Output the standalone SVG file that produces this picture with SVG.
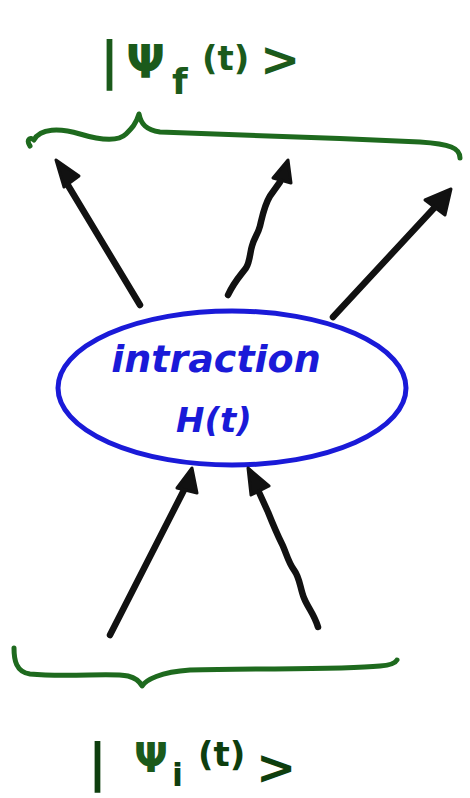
<svg xmlns="http://www.w3.org/2000/svg" width="470" height="798" viewBox="0 0 470 798">
<defs>
<style>
.brace{fill:none;stroke:#1e6a1e;stroke-width:5;stroke-linecap:round;stroke-linejoin:round}
.arr{fill:none;stroke:#111;stroke-width:6.5;stroke-linecap:round;stroke-linejoin:round}
.head{fill:#111;stroke:#111;stroke-width:3;stroke-linejoin:round}
.ket{font-family:"DejaVu Sans",sans-serif;font-weight:bold;fill:#1b5a1b}
.keti{font-family:"DejaVu Sans",sans-serif;font-weight:bold;fill:#0e3e0e}
.lbl{font-family:"DejaVu Sans",sans-serif;font-weight:bold;font-style:italic;fill:#1a1ad8}
</style>
</defs>
<rect width="470" height="798" fill="#ffffff"/>
<g id="psi_f">
<text class="ket" x="100" y="78" font-size="52">|</text>
<text class="ket" x="126" y="78" font-size="46">Ψ</text>
<text class="ket" x="172" y="94" font-size="36">f</text>
<text class="ket" x="202" y="70" font-size="34">(t)</text>
<text class="ket" x="260" y="76" font-size="48">&gt;</text>
</g>
<g id="brace_top">
<path class="brace" d="M30,146 C26,140 30,136 34,140 C40,128 60,128 80,134 C100,140 118,142 126,134 C132,128 136,124 139,114 C141,124 146,130 160,132 C220,134 330,138 420,142 C450,144 460,148 460,158"/>
</g>
<g id="interaction">
<ellipse cx="232" cy="388" rx="174" ry="77" fill="none" stroke="#1a1ad8" stroke-width="5"/>
<text class="lbl" x="216" y="372" font-size="38" text-anchor="middle">intraction</text>
<text class="lbl" x="214" y="432" font-size="34" text-anchor="middle">H(t)</text>
</g>
<g id="brace_bottom">
<path class="brace" d="M14,648 C14,660 16,672 30,674 C70,678 110,672 128,676 C136,678 140,682 142,686 C146,680 160,672 190,670 C260,668 340,670 380,666 C392,665 396,662 397,660"/>
</g>
<g id="psi_i">
<text class="keti" x="88" y="780" font-size="52">|</text>
<text class="ket" x="134" y="772" font-size="40">Ψ</text>
<text class="keti" x="172" y="786" font-size="32">i</text>
<text class="keti" x="198" y="766" font-size="34">(t)</text>
<text class="keti" x="256" y="784" font-size="48">&gt;</text>
</g>
<g id="connectors">
<path class="arr" d="M140,305 L66,182"/>
<polygon class="head" points="56,160 79,176 64,187"/>
<path class="arr" d="M228,295 C234,282 240,276 246,268 C250,262 250,252 252,246 C254,238 258,234 260,226 C262,218 264,206 270,196 L280,182"/>
<polygon class="head" points="288,160 291,183 273,178"/>
<path class="arr" d="M333,317 L436,206"/>
<polygon class="head" points="451,189 445,215 425,200"/>
<path class="arr" d="M110,635 L184,490"/>
<polygon class="head" points="192,468 197,493 177,488"/>
<path class="arr" d="M318,627 C314,614 308,608 304,598 C300,588 300,578 294,570 C288,562 286,552 282,544 C276,532 272,522 268,512 L258,490"/>
<polygon class="head" points="248,468 269,486 251,495"/>
</g>
</svg>
